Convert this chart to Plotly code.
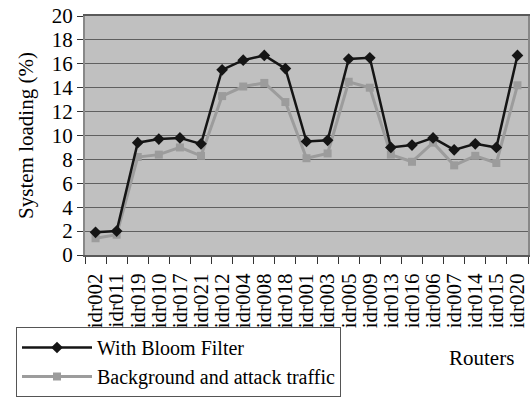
import plotly.graph_objects as go

routers = ["idr002", "idr011", "idr019", "idr010", "idr017", "idr021", "idr012",
           "idr004", "idr008", "idr018", "idr001", "idr003", "idr005", "idr009",
           "idr013", "idr016", "idr006", "idr007", "idr014", "idr015", "idr020"]
with_bloom = [1.9, 2.0, 9.4, 9.7, 9.8, 9.3, 15.5, 16.3, 16.7, 15.6, 9.5, 9.6,
              16.4, 16.5, 9.0, 9.2, 9.8, 8.8, 9.3, 9.0, 16.7]
background_attack = [1.4, 1.7, 8.2, 8.4, 9.0, 8.3, 13.3, 14.1, 14.4, 12.8, 8.1, 8.5,
                     14.5, 14.0, 8.4, 7.8, 9.4, 7.5, 8.3, 7.7, 14.2]
y_ticks = [0, 2, 4, 6, 8, 10, 12, 14, 16, 18, 20]

FONT = "Liberation Serif"
W, H = 530, 400
ML, MR, MT, MB = 85, 2, 16, 145
PW, PH = W - ML - MR, H - MT - MB

fig = go.Figure()
fig.add_trace(go.Scatter(
    x=routers, y=background_attack, name="Background and attack traffic",
    mode="lines+markers",
    line=dict(color="#9c9c9c", width=3),
    marker=dict(symbol="square", size=8, color="#9c9c9c"),
))
fig.add_trace(go.Scatter(
    x=routers, y=with_bloom, name="With Bloom Filter",
    mode="lines+markers",
    line=dict(color="#151515", width=2.5),
    marker=dict(symbol="diamond", size=9, color="#151515"),
))

fig.update_layout(
    width=W, height=H,
    margin=dict(l=ML, r=MR, t=MT, b=MB, autoexpand=False),
    paper_bgcolor="white",
    plot_bgcolor="#c0c0c0",
    font=dict(family=FONT, size=21, color="black"),
    showlegend=True,
    legend=dict(
        x=(16 - ML) / PW, y=(PH + MT - 397) / PH, xanchor="left", yanchor="bottom",
        traceorder="reversed",
        bordercolor="#555555", borderwidth=1,
        bgcolor="white",
        font=dict(family=FONT, size=20, color="black"),
        itemwidth=70,
        tracegroupgap=0,
    ),
    xaxis=dict(
        type="category",
        tickmode="array", tickvals=routers, ticktext=routers,
        tickangle=-90,
        tickson="boundaries",
        ticks="outside", ticklen=7, tickcolor="#333333",
        ticklabelstandoff=8,
        showgrid=False,
        showline=True, linecolor="#5a5a5a", linewidth=2, mirror=True,
        tickfont=dict(family=FONT, size=21),
        range=[-0.5, len(routers) - 0.5],
        automargin=False,
    ),
    yaxis=dict(
        range=[0, 20], tickmode="array", tickvals=y_ticks,
        ticks="outside", ticklen=6, tickcolor="#333333",
        showgrid=True, gridcolor="#606060", gridwidth=1,
        showline=True, linecolor="#888888", linewidth=2, mirror=True,
        zeroline=False,
        ticklabeloverflow="allow",
        tickfont=dict(family=FONT, size=21),
        title=dict(text="System loading (%)", font=dict(family=FONT, size=21), standoff=12),
        automargin=False,
    ),
    annotations=[dict(
        text="Routers", xref="paper", yref="paper",
        x=0.895, y=-0.43, xanchor="center", yanchor="middle",
        showarrow=False, font=dict(family=FONT, size=21, color="black"),
    )],
)

fig.write_html("out.html", config={"displayModeBar": False},
               post_script="document.body.style.margin='0';")
